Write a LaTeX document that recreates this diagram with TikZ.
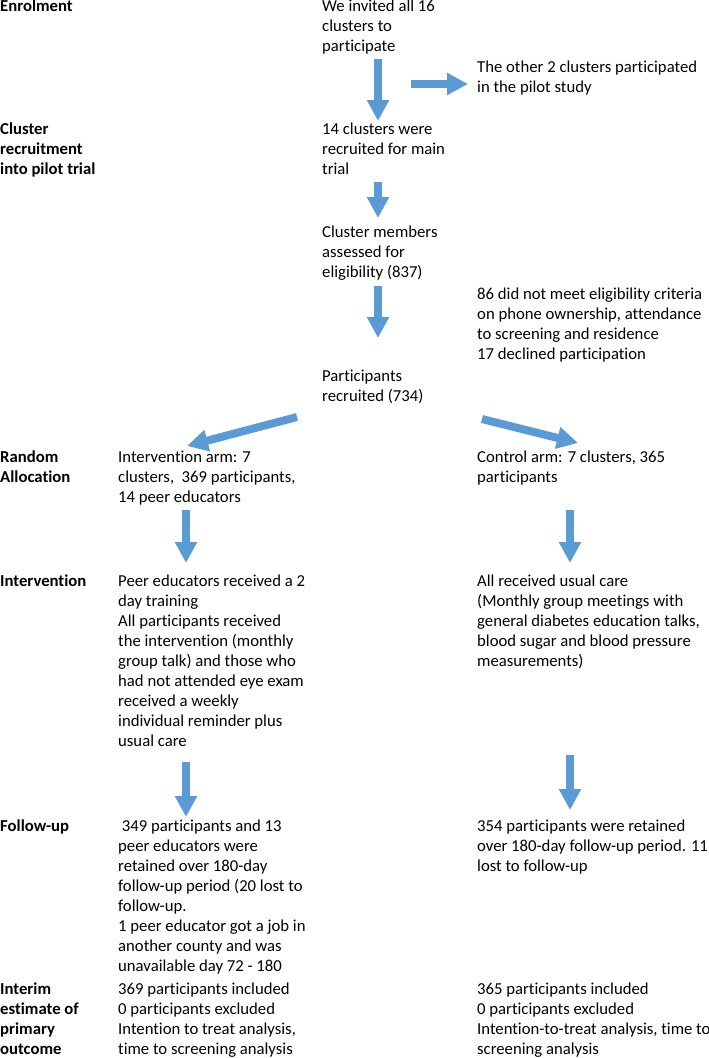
\documentclass[tikz,border=0pt]{standalone}
\usepackage{fontspec}
\setmainfont{Carlito}[Ligatures=NoCommon]
\usetikzlibrary{arrows.meta}
\definecolor{arrowblue}{HTML}{5B9BD5}
\begin{document}
\begin{tikzpicture}[x=1pt,y=-1pt,
  txt/.style={anchor=base west, inner sep=0pt, align=left, font=\fontsize{16.7}{20}\selectfont},
  lbl/.style={txt, font=\fontsize{16.7}{20}\selectfont\bfseries},
  barrow/.style={draw=arrowblue, line width=8pt, -{Triangle[length=21pt,width=21pt]}, arrowblue}]
\useasboundingbox (0,0) rectangle (709,1058);

% anchor = baseline of the LAST line of each node
\node[lbl] (l1) at (0,11) {Enrolment};
\node[txt] (n1) at (322,51) {We invited all 16\\clusters to\\participate};
\node[txt] (n1r) at (477,92) {The other 2 clusters participated\\in the pilot study};
\node[lbl] (l2) at (0,174) {Cluster\\recruitment\\into pilot trial};
\node[txt] (n2) at (322,174) {14 clusters were\\recruited for main\\trial};
\node[txt] (n3) at (322,277) {Cluster members\\assessed for\\eligibility (837)};
\node[txt] (n3r) at (477,359) {86 did not meet eligibility criteria\\on phone ownership, attendance\\to screening and residence\\17 declined participation};
\node[txt] (n4) at (322,401) {Participants\\recruited (734)};
\node[lbl] (l3) at (0,482) {Random\\Allocation};
\node[txt] (n5a) at (118,502) {Intervention arm: 7\\clusters,\ \ 369 participants,\\14 peer educators};
\node[txt] (n5b) at (477,482) {Control arm: 7 clusters, 365\\participants};
\node[lbl] (l4) at (0,586) {Intervention};
\node[txt] (n6a) at (118,746) {Peer educators received a 2\\day training\\All participants received\\the intervention (monthly\\group talk) and those who\\had not attended eye exam\\received a weekly\\individual reminder plus\\usual care};
\node[txt] (n6b) at (477,666) {All received usual care\\(Monthly group meetings with\\general diabetes education talks,\\blood sugar and blood pressure\\measurements)};
\node[lbl] (l5) at (0,831) {Follow-up};
\node[txt] (n7a) at (118,971) {\ 349 participants and 13\\peer educators were\\retained over 180-day\\follow-up period (20 lost to\\follow-up.\\1 peer educator got a job in\\another county and was\\unavailable day 72 - 180};
\node[txt] (n7b) at (477,871) {354 participants were retained\\over 180-day follow-up period. 11\\lost to follow-up};
\node[lbl] (l6) at (0,1054) {Interim\\estimate of\\primary\\outcome};
\node[txt] (n8a) at (118,1054) {369 participants included\\0 participants excluded\\Intention to treat analysis,\\time to screening analysis};
\node[txt] (n8b) at (477,1054) {365 participants included\\0 participants excluded\\Intention-to-treat analysis, time to\\screening analysis};

\coordinate (a1s) at (378,59);  \coordinate (a1e) at (378,121);
\coordinate (a2s) at (411,84);  \coordinate (a2e) at (468,84);
\coordinate (a3s) at (378,182); \coordinate (a3e) at (378,218);
\coordinate (a4s) at (378,286); \coordinate (a4e) at (378,338);
\coordinate (a5s) at (297,417); \coordinate (a5e) at (187,446);
\coordinate (a6s) at (482,419); \coordinate (a6e) at (578,443);
\coordinate (a7s) at (186,510); \coordinate (a7e) at (186,563);
\coordinate (a8s) at (570,510); \coordinate (a8e) at (570,563);
\coordinate (a9s) at (186,762); \coordinate (a9e) at (186,817);
\coordinate (a10s) at (570,755); \coordinate (a10e) at (570,810);

\foreach \a in {1,...,10} {\draw[barrow] (a\a s) -- (a\a e);}
\end{tikzpicture}
\end{document}
